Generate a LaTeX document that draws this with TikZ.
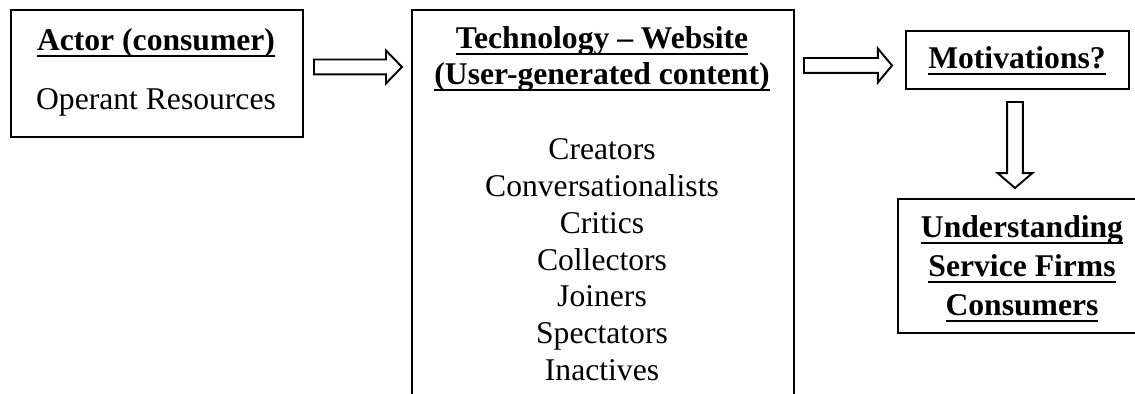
\documentclass[tikz,border=0pt]{standalone}
\usepackage{fontspec}
\setmainfont{Liberation Serif}
\usetikzlibrary{calc}

% bold heading with a heavy underline
\newsavebox{\hdbox}
\newcommand{\hd}[1]{\sbox{\hdbox}{\textbf{#1}}%
  \rlap{\rule[-3.5pt]{\wd\hdbox}{1.2pt}}\usebox{\hdbox}}

\tikzset{
  box/.style={draw, line width=1.1pt, anchor=north west, inner sep=0pt},
  txt/.style={anchor=base, inner sep=0pt, font=\fontsize{18}{21}\selectfont},
  blockline/.style={draw, line width=1.1pt, line join=miter},
  % hollow block arrow pointing right: shaft half width, head half width, head length
  blockh/.style n args={3}{to path={
    let \p1=(\tikztostart), \p2=(\tikztotarget) in
    (\x1,\y1+#1) -- (\x2-#3,\y1+#1) -- (\x2-#3,\y1+#2) -- (\x2,\y1)
    -- (\x2-#3,\y1-#2) -- (\x2-#3,\y1-#1) -- (\x1,\y1-#1) -- cycle}},
  % hollow block arrow pointing down
  blockv/.style n args={3}{to path={
    let \p1=(\tikztostart), \p2=(\tikztotarget) in
    (\x1-#1,\y1) -- (\x1-#1,\y2+#3) -- (\x1-#2,\y2+#3) -- (\x1,\y2)
    -- (\x1+#2,\y2+#3) -- (\x1+#1,\y2+#3) -- (\x1+#1,\y1) -- cycle}}
}

\begin{document}
\begin{tikzpicture}[x=0.02cm, y=-0.02cm]
  \useasboundingbox (0,0) rectangle (1135,394);
  \fill[white] (0,0) rectangle (1135,394);
  \clip (0,0) rectangle (1135,394);

  % boxes
  \node[box, minimum width=5.84cm, minimum height=2.54cm] (actor) at (10,9) {};
  \node[box, minimum width=7.64cm, minimum height=8.4cm] (tech) at (411,9) {};
  \node[box, minimum width=4.46cm, minimum height=1.16cm] (motiv) at (905,30) {};
  \node[box, minimum width=5.2cm, minimum height=2.68cm] (under) at (897,198) {};

  % actor box text
  \node[txt] (actorT) at (156,51) {\hd{Actor (consumer)}};
  \node[txt] (actorR) at (156,110) {Operant Resources};

  % technology box text
  \node[txt] (techT1) at (602,49) {\hd{Technology – Website}};
  \node[txt] (techT2) at (602,85) {\hd{(User-generated content)}};
  \foreach \r [count=\i from 0] in {Creators, Conversationalists, Critics,
      Collectors, Joiners, Spectators, Inactives}
    \node[txt] (role\i) at (602,160+36.67*\i) {\r};

  % motivations and outcome
  \node[txt] (motivT) at (1017,69) {\hd{Motivations?}};
  \node[txt] (underT1) at (1022,238) {\hd{Understanding}};
  \node[txt] (underT2) at (1022,277) {\hd{Service Firms}};
  \node[txt] (underT3) at (1022,316) {\hd{Consumers}};

  % block arrows
  \coordinate (a1s) at (314,67);
  \coordinate (a1e) at (402,67);
  \coordinate (a2s) at (804,65.5);
  \coordinate (a2e) at (892,65.5);
  \coordinate (a3s) at (1015,102);
  \coordinate (a3e) at (1015,188);
  \path[blockline] (a1s) to[blockh={4.25pt}{9.35pt}{9.1pt}] (a1e);
  \path[blockline] (a2s) to[blockh={4.25pt}{9.6pt}{8pt}] (a2e);
  \path[blockline] (a3s) to[blockv={4.5pt}{9.9pt}{8.5pt}] (a3e);
\end{tikzpicture}
\end{document}
